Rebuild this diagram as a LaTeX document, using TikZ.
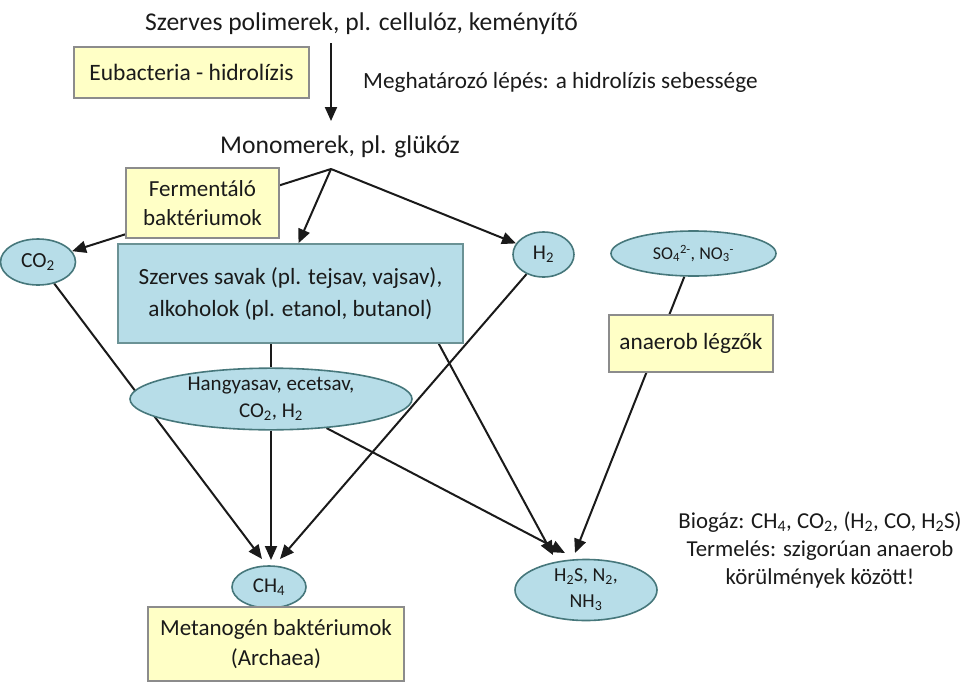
\documentclass[tikz,border=0pt]{standalone}
\usepackage{fontspec}
\setmainfont{Carlito}
\usetikzlibrary{arrows.meta,shapes.geometric,backgrounds}
\definecolor{bactfill}{HTML}{FFFFC6}
\definecolor{bactline}{HTML}{8C8C8C}
\definecolor{gasfill}{HTML}{B7DDE8}
\definecolor{gasline}{HTML}{46777B}
\definecolor{ink}{HTML}{1A1A1A}
\newcommand{\fs}[2]{\fontsize{#1}{#2}\selectfont}
\tikzset{
  bact/.style={draw=bactline,fill=bactfill,line width=1.4pt,align=center,inner sep=0pt,text=ink},
  gas/.style={ellipse,draw=gasline,fill=gasfill,line width=1.6pt,align=center,inner sep=0pt,text=ink},
  acidbox/.style={draw=gasline!80,fill=gasfill,line width=1.6pt,align=center,inner sep=0pt,text=ink},
  flow/.style={line width=2pt,draw=ink,-{Triangle[length=14pt,width=12pt]}},
  link/.style={line width=2pt,draw=ink}
}
\begin{document}
\begin{tikzpicture}[x=1pt,y=-1pt]
\useasboundingbox (0,0) rectangle (980,691);
\node[anchor=base west,inner sep=0pt,text=ink,font=\fs{25.6}{30}] (poly) at (145,30) {Szerves polimerek, pl. cellulóz, keményítő};
\node[bact,minimum width=235pt,minimum height=51pt,font=\fs{23.5}{28}] (eubac) at (191.5,72.5) {Eubacteria - hidrolízis};
\node[anchor=base west,inner sep=0pt,text=ink,font=\fs{23.2}{28}] (rate) at (363,88) {Meghatározó lépés: a hidrolízis sebessége};
\node[anchor=base west,inner sep=0pt,text=ink,font=\fs{25.6}{30}] (mono) at (220,153) {Monomerek, pl. glükóz};
\coordinate (split) at (331,169);
\node[bact,minimum width=153pt,minimum height=70pt,font=\fs{23}{29}] (ferm) at (202.5,203) {Fermentáló\\baktériumok};
\node[gas,minimum width=75pt,minimum height=46pt,font=\fs{21.5}{24}] (co2) at (38,262) {CO\textsubscript{2}};
\node[acidbox,minimum width=345pt,minimum height=99pt,font=\fs{23.2}{32}] (acids) at (290.5,293.5) {Szerves savak (pl. tejsav, vajsav),\\alkoholok (pl. etanol, butanol)};
\node[gas,minimum width=61pt,minimum height=45pt,font=\fs{21}{24}] (h2) at (543.5,254.5) {H\textsubscript{2}};
\node[gas,minimum width=165pt,minimum height=45pt,font=\fs{18}{22}] (oxid) at (693.5,253.5) {SO\textsubscript{4}\textsuperscript{2-}, NO\textsubscript{3}\textsuperscript{-}};
\node[bact,minimum width=164pt,minimum height=57pt,font=\fs{23.3}{28}] (resp) at (691,343.5) {anaerob légzők};
\node[gas,minimum width=282pt,minimum height=61pt,font=\fs{21}{27}] (acet) at (271,399) {Hangyasav, ecetsav,\\CO\textsubscript{2}, H\textsubscript{2}};
\node[gas,minimum width=74pt,minimum height=42pt,font=\fs{21}{24}] (ch4) at (269,587) {CH\textsubscript{4}};
\node[bact,minimum width=256pt,minimum height=74pt,font=\fs{23}{30}] (meth) at (276,644) {Metanogén baktériumok\\(Archaea)};
\node[gas,minimum width=142pt,minimum height=61pt,font=\fs{19.8}{26}] (sulf) at (586,590) {H\textsubscript{2}S, N\textsubscript{2},\\NH\textsubscript{3}};
\node[align=center,inner sep=0pt,text=ink,font=\fs{22.8}{28}] (biogas) at (820,550) {Biogáz: CH\textsubscript{4}, CO\textsubscript{2}, (H\textsubscript{2}, CO, H\textsubscript{2}S)\\Termelés: szigorúan anaerob\\körülmények között!};
\coordinate (ch4l) at (262,559);
\coordinate (ch4m) at (271,560);
\coordinate (ch4r) at (280,559);
\coordinate (sulfl) at (553,555);
\coordinate (sulfm) at (565,553);
\coordinate (sulfr) at (575,553);
\begin{scope}[on background layer]
\draw[flow,shorten <=13pt,shorten >=14pt] (poly.base -| split) -- (mono.north -| split);
\draw[flow] (split) -- (co2);
\draw[flow] (split) -- ([xshift=8pt]acids.north);
\draw[flow] (split) -- (h2);
\draw[link] (acids.south -| acet.north) -- (acet.north);
\draw[flow] (acet.south) -- (ch4m);
\draw[flow] (co2) -- (ch4l);
\draw[flow] (h2) -- (ch4r);
\draw[flow] ([xshift=-25pt]acids.south east) -- (sulfl);
\draw[flow] (acet) -- (sulfm);
\draw[flow] (oxid) -- (sulfr);
\end{scope}
\end{tikzpicture}
\end{document}
